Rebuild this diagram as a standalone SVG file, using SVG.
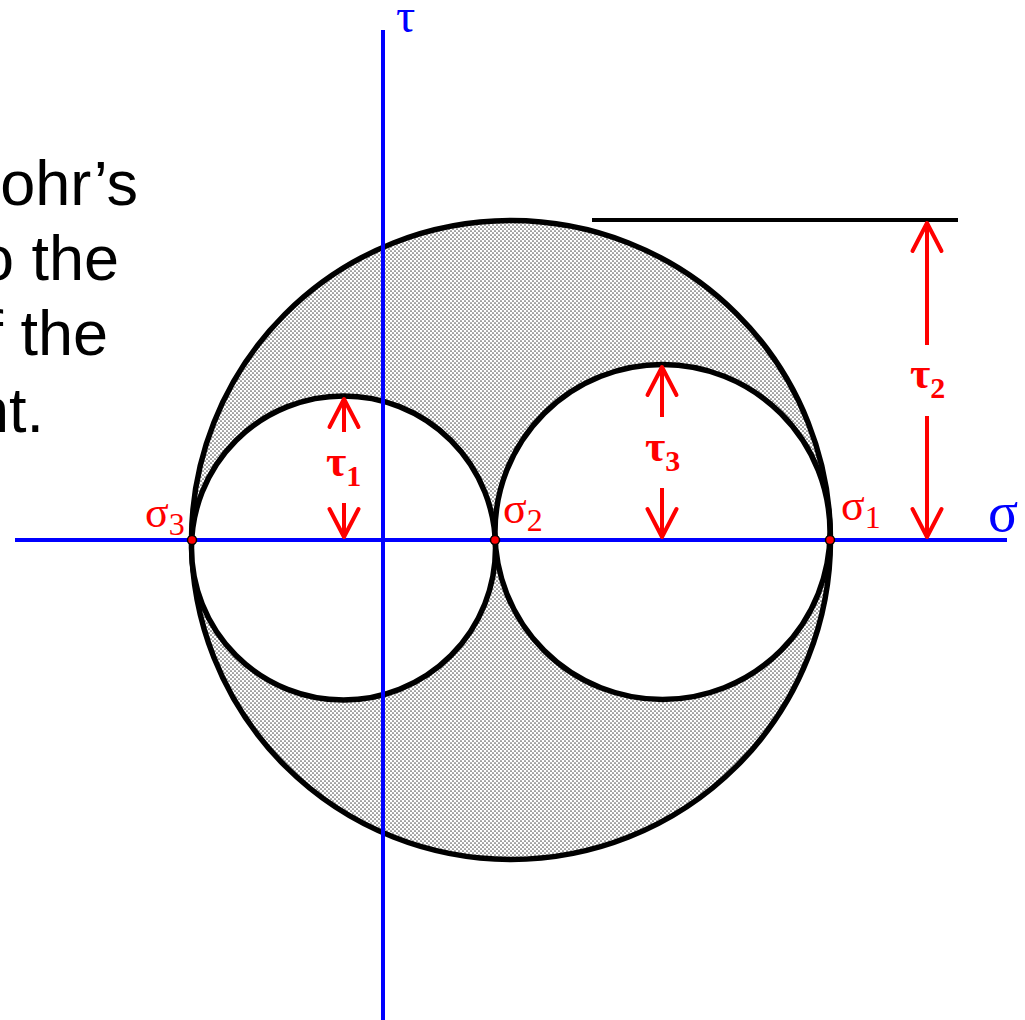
<svg xmlns="http://www.w3.org/2000/svg" width="1025" height="1020" viewBox="0 0 1025 1020">
<style>
.axis{stroke:#0000ff;stroke-width:4;fill:none}
.circ{stroke:#000;stroke-width:5.5;}
.arr{stroke:#ff0000;stroke-width:4;fill:none}
.lbl{font-family:"Liberation Serif","DejaVu Serif",serif;fill:#ff0000}
.tl{font-family:"Liberation Serif","DejaVu Serif",serif;fill:#ff0000;font-weight:bold}
.ax{font-family:"Liberation Serif","DejaVu Serif",serif;fill:#0000ff}
.txt{font-family:"Liberation Sans",Arial,sans-serif;font-size:63px;fill:#000;text-anchor:end}
</style>
<defs>
<pattern id="stip" width="4" height="4" patternUnits="userSpaceOnUse">
<rect width="4" height="4" fill="#ffffff"/>
<circle cx="1" cy="1" r="0.85" fill="#555"/>
<circle cx="3" cy="3" r="0.85" fill="#555"/>
</pattern>
<marker id="ah" markerUnits="userSpaceOnUse" viewBox="-34 -18 40 36" markerWidth="40" markerHeight="36" refX="0" refY="0" orient="auto" overflow="visible">
<path d="M-28,-14.5 L0,0 L-28,14.5" fill="none" stroke="#ff0000" stroke-width="4" stroke-linecap="round" stroke-linejoin="round"/>
</marker>
</defs>
<rect width="1025" height="1020" fill="#fff"/>

<g id="text">
<text class="txt" x="138" y="205">ohr’s</text>
<text class="txt" x="119" y="280">o the</text>
<text class="txt" x="108" y="355">f the</text>
<text class="txt" x="44" y="432">nt.</text>
</g>

<g id="big-circle">
<circle cx="511" cy="540" r="319.5" fill="url(#stip)" class="circ"/>
</g>
<g id="left-circle">
<circle cx="343.5" cy="548" r="152" fill="#fff" class="circ"/>
</g>
<g id="right-circle">
<circle cx="662.5" cy="532" r="167.5" fill="#fff" class="circ"/>
</g>

<g id="axes">
<line class="axis" x1="15" y1="540" x2="1007" y2="540"/>
<line class="axis" x1="383" y1="30" x2="383" y2="1020"/>
<text class="ax" x="396" y="32" font-size="48">τ</text>
<text class="ax" x="988" y="531" font-size="56">σ</text>
</g>

<g id="connectors">
<line x1="592" y1="220" x2="958" y2="220" stroke="#000" stroke-width="4"/>
<line class="arr" x1="344" y1="432" x2="344" y2="399" marker-end="url(#ah)"/>
<line class="arr" x1="344" y1="503" x2="344" y2="537" marker-end="url(#ah)"/>
<line class="arr" x1="662" y1="417" x2="662" y2="367" marker-end="url(#ah)"/>
<line class="arr" x1="662" y1="488" x2="662" y2="537" marker-end="url(#ah)"/>
<line class="arr" x1="927" y1="345" x2="927" y2="223" marker-end="url(#ah)"/>
<line class="arr" x1="927" y1="416" x2="927" y2="537" marker-end="url(#ah)"/>
</g>

<g id="points">
<circle cx="192" cy="540" r="4.5" fill="#ff0000" stroke="#000" stroke-width="1.5"/>
<circle cx="495" cy="540" r="4.5" fill="#ff0000" stroke="#000" stroke-width="1.5"/>
<circle cx="830" cy="540" r="4.5" fill="#ff0000" stroke="#000" stroke-width="1.5"/>
</g>

<g id="labels">
<text class="lbl" x="145" y="527" font-size="44">σ<tspan font-size="32" dy="8">3</tspan></text>
<text class="lbl" x="503" y="523" font-size="44">σ<tspan font-size="32" dy="8">2</tspan></text>
<text class="lbl" x="841" y="520" font-size="44">σ<tspan font-size="32" dy="8">1</tspan></text>
<text class="tl" x="326" y="476" font-size="44">τ<tspan font-size="30" dy="10">1</tspan></text>
<text class="tl" x="645" y="461" font-size="44">τ<tspan font-size="30" dy="10">3</tspan></text>
<text class="tl" x="910" y="388" font-size="44">τ<tspan font-size="30" dy="10">2</tspan></text>
</g>
</svg>
